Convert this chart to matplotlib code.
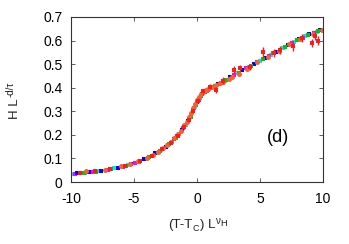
import matplotlib
matplotlib.use("Agg")
import matplotlib.pyplot as plt

plt.rcParams['font.family'] = ['Liberation Sans', 'DejaVu Sans']
plt.rcParams['axes.unicode_minus'] = False

# ---- data ----
cyan_x = [-9.9, -8.9, -7.9, -6.6, -5.5, -4.5, -3.6, -2.8, -2.0, -1.4, -0.9, -0.5, -0.15, 0.2, 0.7, 1.3, 2.2, 3.2, 4.1, 5.0, 5.9, 6.8, 7.7, 8.6, 9.5]
cyan_y = [0.034, 0.040, 0.046, 0.058, 0.071, 0.089, 0.112, 0.138, 0.170, 0.205, 0.242, 0.278, 0.318, 0.355, 0.385, 0.402, 0.430, 0.462, 0.490, 0.514, 0.540, 0.568, 0.595, 0.620, 0.638]

magenta_x = [-9.7, -8.3, -7.1, -5.9, -4.9, -3.9, -3.0, -2.3, -1.6, -1.1, -0.6, -0.2, 0.15, 0.6, 1.1, 1.9, 2.9, 3.9, 4.8, 5.7, 6.6, 7.5, 8.4, 9.3]
magenta_y = [0.036, 0.043, 0.052, 0.064, 0.080, 0.101, 0.128, 0.158, 0.195, 0.228, 0.268, 0.312, 0.350, 0.380, 0.398, 0.420, 0.452, 0.482, 0.510, 0.536, 0.562, 0.588, 0.612, 0.632]

blue_x = [-9.5, -8.6, -7.6, -6.3, -5.2, -4.2, -3.3, -2.5, -1.8, -1.2, -0.7, -0.35, 0.0, 0.4, 0.9, 1.7, 2.6, 3.6, 4.5, 5.4, 6.3, 7.2, 8.1, 8.9, 9.8]
blue_y = [0.037, 0.042, 0.048, 0.061, 0.076, 0.096, 0.121, 0.150, 0.183, 0.220, 0.258, 0.300, 0.340, 0.372, 0.392, 0.415, 0.444, 0.474, 0.500, 0.528, 0.553, 0.582, 0.607, 0.627, 0.645]

green_x = [-9.0, -8.0, -6.8, -5.6, -4.6, -3.8, -2.9, -2.2, -1.7, -1.0, -0.5, -0.1, 0.3, 0.8, 1.4, 2.3, 3.3, 4.3, 5.2, 6.0, 7.0, 7.9, 8.8, 9.6]
green_y = [0.039, 0.044, 0.056, 0.068, 0.086, 0.104, 0.131, 0.160, 0.186, 0.232, 0.276, 0.326, 0.364, 0.388, 0.406, 0.434, 0.464, 0.492, 0.520, 0.546, 0.574, 0.602, 0.624, 0.640]

orange_x = [-8.8, -7.3, -6.0, -5.3, -4.7, -4.0, -3.5, -3.1, -2.7, -2.4, -2.1, -1.8, -1.5, -1.3, -1.0, -0.8, -0.6, -0.45, -0.3, -0.15, 0.0, 0.15, 0.3, 0.5, 0.7, 0.9, 1.2, 1.5, 1.8, 2.1, 2.5, 2.8, 3.3, 4.0, 4.8, 5.6, 6.5, 7.3, 8.2, 9.2, 9.9]
orange_y = [0.046, 0.053, 0.066, 0.076, 0.088, 0.103, 0.116, 0.129, 0.143, 0.156, 0.170, 0.187, 0.204, 0.216, 0.240, 0.256, 0.276, 0.292, 0.312, 0.332, 0.350, 0.362, 0.372, 0.382, 0.390, 0.396, 0.404, 0.411, 0.418, 0.426, 0.437, 0.446, 0.460, 0.480, 0.508, 0.532, 0.557, 0.585, 0.608, 0.630, 0.646]

red_x = [-9.3, -8.1, -6.9, -5.7, -4.5, -3.6, -2.8, -2.1, -1.5, -1.0, -0.6, -0.3, 0.1, 0.5, 1.0, 1.5, 2.1, 2.9, 3.4, 4.2, 5.2, 6.1, 6.6, 7.6, 8.3, 9.1, 9.4, 9.6]
red_y = [0.040, 0.045, 0.055, 0.067, 0.091, 0.111, 0.138, 0.166, 0.197, 0.232, 0.262, 0.300, 0.345, 0.385, 0.405, 0.390, 0.430, 0.475, 0.483, 0.488, 0.550, 0.547, 0.560, 0.575, 0.610, 0.590, 0.620, 0.600]
red_err = [0.003, 0.003, 0.003, 0.004, 0.004, 0.004, 0.005, 0.005, 0.006, 0.006, 0.007, 0.008, 0.010, 0.010, 0.012, 0.014, 0.014, 0.016, 0.014, 0.014, 0.022, 0.016, 0.016, 0.018, 0.018, 0.016, 0.016, 0.018]

x_ticks = [-10, -5, 0, 5, 10]
y_ticks = [0, 0.1, 0.2, 0.3, 0.4, 0.5, 0.6, 0.7]
y_ticklabels = ['0', '0.1', '0.2', '0.3', '0.4', '0.5', '0.6', '0.7']

# label pieces: (text, fontsize, baseline shift in px)
xlabel_pieces = [('(T-T', 9.5, 0), ('C', 6.5, -3), (') L', 9.5, 0), ('\u03bd', 7, 4.5), ('H', 6.8, 2.5)]
ylabel_pieces = [('H L', 9.5, 0), ('-d/\u03c4', 7, 4.5)]

# ---- figure ----
W, H = 349, 244
fig = plt.figure(figsize=(W / 100, H / 100), dpi=100)
ax = fig.add_axes([71/W, 1-182/H, (323-71)/W, (182-17)/H])

sq = dict(linestyle='none', marker='s', markersize=2.9, markeredgewidth=0)
ax.plot(cyan_x, cyan_y, color='#00e8f0', **sq)
ax.plot(magenta_x, magenta_y, color='#ff00ff', **sq)
ax.plot(blue_x, blue_y, color='#0000ff', **sq)
ax.plot(green_x, green_y, color='#00c800', **sq)
ax.plot(orange_x, orange_y, color='#f4622e', linestyle='none', marker='o',
        markersize=3.6, markeredgewidth=0)
ax.errorbar(red_x, red_y, yerr=red_err, color='#ff1a1a', linestyle='none',
            marker='s', markersize=2.4, markeredgewidth=0, elinewidth=1.0,
            capsize=1.6, capthick=1.0)

ax.set_xlim(-10, 10)
ax.set_ylim(0, 0.7)
ax.set_xticks(x_ticks)
ax.set_yticks(y_ticks)
ax.set_yticklabels(y_ticklabels)
ax.tick_params(direction='in', length=3, width=0.6, top=True, right=True,
               labelsize=10, colors='#444444', labelcolor='black')
ax.tick_params(axis='x', pad=7)
ax.tick_params(axis='y', pad=6)
for s in ax.spines.values():
    s.set_linewidth(0.8)
    s.set_color('#333333')

ax.text(6.4, 0.19, '(d)', fontsize=13, ha='center', va='center')

renderer = fig.canvas.get_renderer()

# x label built from pieces, centred at x=198 px, baseline at 228 px from top
texts = []
x = 0.0
base_y = H - 228
for s, fs, dy in xlabel_pieces:
    t = fig.text(x / W, (base_y + dy) / H, s, fontsize=fs, ha='left', va='baseline', color='#222222')
    texts.append(t)
    x = t.get_window_extent(renderer).x1 + 0.3
shift = 198 - x / 2
for t in texts:
    px, py = t.get_position()
    t.set_position((px + shift / W, py))

# y label (rotated), centred at y=100 px from top, baseline at x=18 px
texts = []
y = 0.0
base_x = 18.0
for s, fs, dy in ylabel_pieces:
    t = fig.text((base_x - dy) / W, y / H, s, fontsize=fs, rotation=90, rotation_mode='anchor',
                 ha='left', va='baseline', color='#222222')
    texts.append(t)
    y = t.get_window_extent(renderer).y1 + 1.0
shift = (H - 100) - y / 2
for t in texts:
    px, py = t.get_position()
    t.set_position((px, py + shift / H))

fig.savefig('out.png', dpi=100)
